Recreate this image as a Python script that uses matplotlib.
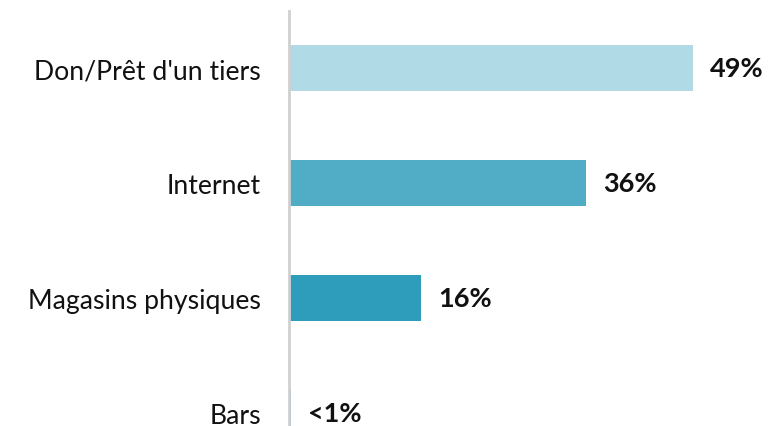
import matplotlib.pyplot as plt

categories = ["Don/Prêt d'un tiers", "Internet", "Magasins physiques", "Bars"]
values = [49, 36, 16, 0.2]
value_labels = ["49%", "36%", "16%", "<1%"]
colors = ["#b0dae6", "#50adc5", "#2e9dbb", "#2e9dbb"]

plt.rcParams['font.family'] = ['Lato', 'DejaVu Sans']

fig = plt.figure(figsize=(7.69, 4.27), dpi=100)
ax = fig.add_axes([289 / 769, 0, 480 / 769, 415 / 427])

pos = list(range(len(categories)))
ax.barh(pos, values, height=0.4, color=colors)

for y, v, lab in zip(pos, values, value_labels):
    ax.text(v + 2.1, y, lab, va='center', ha='left',
            fontsize=19.5, fontweight='bold', color='#111111')

ax.set_xlim(0, 480 / 8.245)
ax.set_ylim(3.113, -0.496)
ax.set_yticks(pos)
ax.set_yticklabels(categories, fontsize=19.2, color='#111111')
ax.tick_params(axis='y', length=0, pad=20)
ax.set_xticks([])

for side in ['top', 'right', 'bottom']:
    ax.spines[side].set_visible(False)
ax.spines['left'].set_color('#d0d0d0')
ax.spines['left'].set_linewidth(2)

fig.savefig('out.png', dpi=100)
